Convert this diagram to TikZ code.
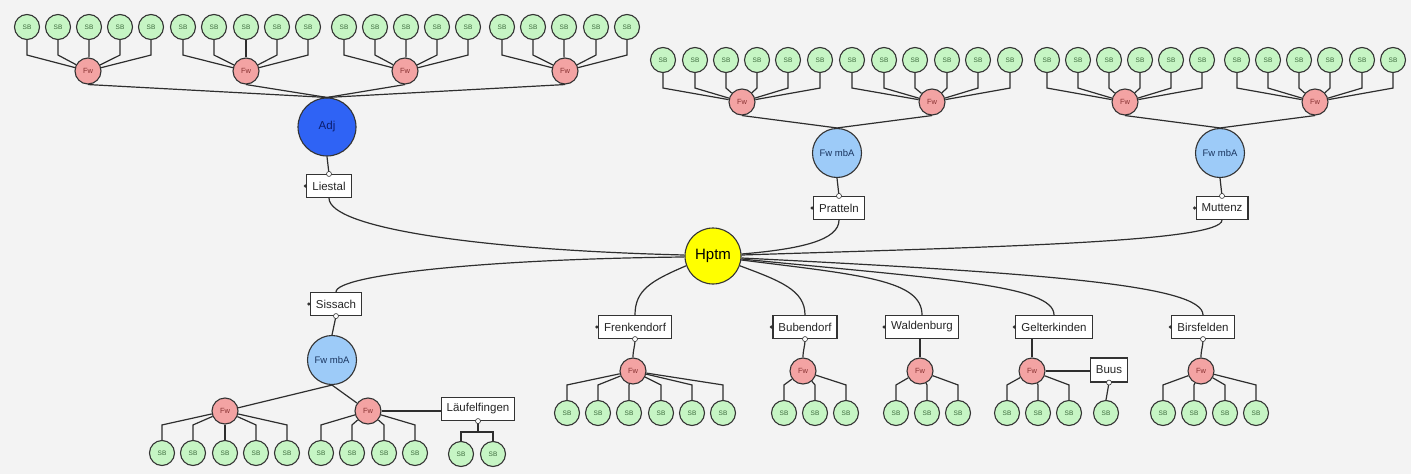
\documentclass[tikz,border=0pt]{standalone}
\usepackage{fontspec}
\setmainfont{Liberation Sans}
\definecolor{bgc}{HTML}{F3F3F3}
\definecolor{edgec}{HTML}{2E2E2E}
\definecolor{nodeb}{HTML}{333333}
\definecolor{sbfill}{HTML}{C6F5C4}
\definecolor{sbtext}{HTML}{3D6B3D}
\definecolor{fwfill}{HTML}{F3A3A3}
\definecolor{fwtext}{HTML}{8A3434}
\definecolor{mbafill}{HTML}{9DCBF8}
\definecolor{mbatext}{HTML}{1A355F}
\definecolor{adjfill}{HTML}{2F63F5}
\definecolor{adjtext}{HTML}{0B1D6E}
\definecolor{hubfill}{HTML}{FFFF00}
\newcommand\topgroup[5]{%
  \node[fw] (#1) at (#2,#3) {Fw};
  \foreach \x [count=\i] in {#4} {
    \node[sb] (#1-\i) at (\x,#5) {SB};
    \draw[edge] (#1-\i.south) -- ([yshift=-15pt]#1-\i.south) -- (#1);
  }%
}
\newcommand\botgroup[5]{%
  \node[fw] (#1) at (#2,#3) {Fw};
  \foreach \x [count=\i] in {#4} {
    \node[sb] (#1-\i) at (\x,#5) {SB};
    \draw[edge] (#1) -- ([yshift=15pt]#1-\i.north) -- (#1-\i.north);
  }%
}
\begin{document}
\begin{tikzpicture}[x=1pt,y=-1pt,
  edge/.style={draw=edgec, line width=1.2pt},
  sb/.style={circle, draw=nodeb, line width=1.1pt, fill=sbfill, minimum size=25pt, inner sep=0pt, text=sbtext, font=\fontsize{6.5}{7}\selectfont},
  fw/.style={circle, draw=nodeb, line width=1.1pt, fill=fwfill, minimum size=26pt, inner sep=0pt, text=fwtext, font=\fontsize{7.5}{8}\selectfont},
  fwmba/.style={circle, draw=nodeb, line width=1.1pt, fill=mbafill, minimum size=49pt, inner sep=0pt, text=mbatext, font=\fontsize{9.5}{10}\selectfont},
  adjst/.style={circle, draw=nodeb, line width=1.1pt, fill=adjfill, minimum size=58pt, inner sep=0pt, text=adjtext, font=\fontsize{11.5}{12}\selectfont},
  hub/.style={circle, draw=nodeb, line width=1.1pt, fill=hubfill, minimum size=56pt, inner sep=0pt, text=black, font=\fontsize{15}{16}\selectfont},
  place/.style={rectangle, draw=nodeb, fill=white, line width=1.1pt, minimum height=23pt, inner xsep=5.5pt, inner ysep=0pt, text=black!85, font=\fontsize{11.5}{13}\selectfont},
  port/.style={circle, draw=nodeb, fill=white, line width=0.6pt, inner sep=0pt, minimum size=5pt},
  ldot/.style={circle, fill=nodeb, inner sep=0pt, minimum size=3.5pt},
]
\fill[bgc] (0,0) rectangle (1411,474);
\useasboundingbox (0,0) rectangle (1411,474);

% ---------- top left: Adj ----------
\topgroup{fa}{88}{71}{27,58,89,120,151}{27}
\topgroup{fb}{246}{71}{183,214,246,277,308}{27}
\topgroup{fc}{405}{71}{344,375,406,437,468}{27}
\topgroup{fd}{565}{71}{502,533,564,596,627}{27}
\node[adjst] (adj) at (327,127) {Adj};
\foreach \f in {fa,fb,fc,fd} \draw[edge] (\f.south) -- (adj.north);
\node[place] (lie) at (329,186) {Liestal};
\draw[edge] (adj.south) -- (lie.north);

% ---------- top right: Pratteln, Muttenz ----------
\topgroup{fe}{742}{102}{663,695,726,757,788,820}{60}
\topgroup{ff}{932}{102}{852,884,915,947,978,1010}{60}
\topgroup{fg}{1125}{102}{1047,1078,1109,1140,1171,1202}{60}
\topgroup{fh}{1315}{102}{1237,1268,1299,1330,1362,1393}{60}
\node[fwmba] (ma) at (837,153) {Fw mbA};
\node[fwmba] (mb) at (1220,153) {Fw mbA};
\draw[edge] (fe.south) -- (ma.north);
\draw[edge] (ff.south) -- (ma.north);
\draw[edge] (fg.south) -- (mb.north);
\draw[edge] (fh.south) -- (mb.north);
\node[place] (pra) at (839,208) {Pratteln};
\node[place] (mut) at (1222,208) {Muttenz};
\draw[edge] (ma.south) -- (pra.north);
\draw[edge] (mb.south) -- (mut.north);

% ---------- hub ----------
\node[hub] (hp) at (713,256) {Hptm};

% ---------- bottom left: Sissach ----------
\node[place] (sis) at (336,304) {Sissach};
\node[fwmba] (mc) at (332,360) {Fw mbA};
\draw[edge] (sis.south) -- (mc.north);
\botgroup{gi}{225}{411}{162,193,225,256,287}{453}
\botgroup{gj}{368}{411}{321,352,384,415}{453}
\draw[edge] (mc.south) -- (gi);
\draw[edge] (mc.south) -- (gj);
\node[place] (lau) at (478,409) {Läufelfingen};
\draw[edge] (gj.east) -- (gj.east -| lau.west);
\node[sb] (l1) at (461,454) {SB};
\node[sb] (l2) at (493,454) {SB};
\draw[edge] (lau.south) -- ++(0,11) -| (l1.north);
\draw[edge] (lau.south) -- ++(0,11) -| (l2.north);

% ---------- bottom middle/right ----------
\node[place] (fre) at (635,327) {Frenkendorf};
\botgroup{gk}{633}{371}{567,598,629,661,692,723}{413}
\draw[edge] (fre.south) .. controls +(0,8) and +(0,-8) .. (gk.north);
\node[place] (bub) at (805,327) {Bubendorf};
\botgroup{gl}{803}{371}{784,815,846}{413}
\draw[edge] (bub.south) .. controls +(0,8) and +(0,-8) .. (gl.north);
\node[place] (wal) at (922,327) {Waldenburg};
\botgroup{gm}{920}{371}{896,927,958}{413}
\draw[edge] (gm.north) -- (gm.north |- wal.south);
\node[place] (gel) at (1054,327) {Gelterkinden};
\botgroup{gn}{1032}{371}{1007,1038,1069}{413}
\draw[edge] (gn.north) -- (gn.north |- gel.south);
\node[place, minimum height=24pt] (buus) at (1109,370) {Buus};
\draw[edge] (gn.east) -- (gn.east -| buus.west);
\node[sb] (bu1) at (1106,413) {SB};
\draw[edge] (buus.south) -- (bu1.north);
\node[place] (bir) at (1203,327) {Birsfelden};
\botgroup{go}{1201}{371}{1163,1194,1225,1256}{413}
\draw[edge] (bir.south) .. controls +(0,8) and +(0,-8) .. (go.north);

% ---------- hub connectors ----------
\draw[edge] (lie.south) .. controls (329,228) and (480,250) .. (hp.178);
\draw[edge] (sis.north) .. controls (336,275) and (485,259) .. (hp.182);
\draw[edge] (pra.south) .. controls +(0,20) and +(60,-5) .. (hp.4);
\draw[edge] (mut.south) .. controls +(0,22) and +(250,-8) .. (hp.2);
\draw[edge] (hp.200) .. controls +(-35,15) and +(0,-25) .. (fre.north);
\draw[edge] (hp.-20) .. controls +(40,15) and +(0,-25) .. (bub.north);
\draw[edge] (hp.-8) .. controls +(120,15) and +(0,-35) .. (wal.north);
\draw[edge] (hp.-6) .. controls +(200,20) and +(0,-30) .. (gel.north);
\draw[edge] (hp.-4) .. controls +(300,15) and +(0,-30) .. (bir.north);

% ---------- ports ----------
\foreach \b in {lie,pra,mut} \node[port] at (\b.north) {};
\foreach \b in {sis,lau,fre,bub,bir,buus} \node[port] at (\b.south) {};
\foreach \b in {lie,pra,mut,sis,fre,bub,wal,gel,bir} \node[ldot] at ([xshift=-1pt]\b.west) {};
\end{tikzpicture}
\end{document}
